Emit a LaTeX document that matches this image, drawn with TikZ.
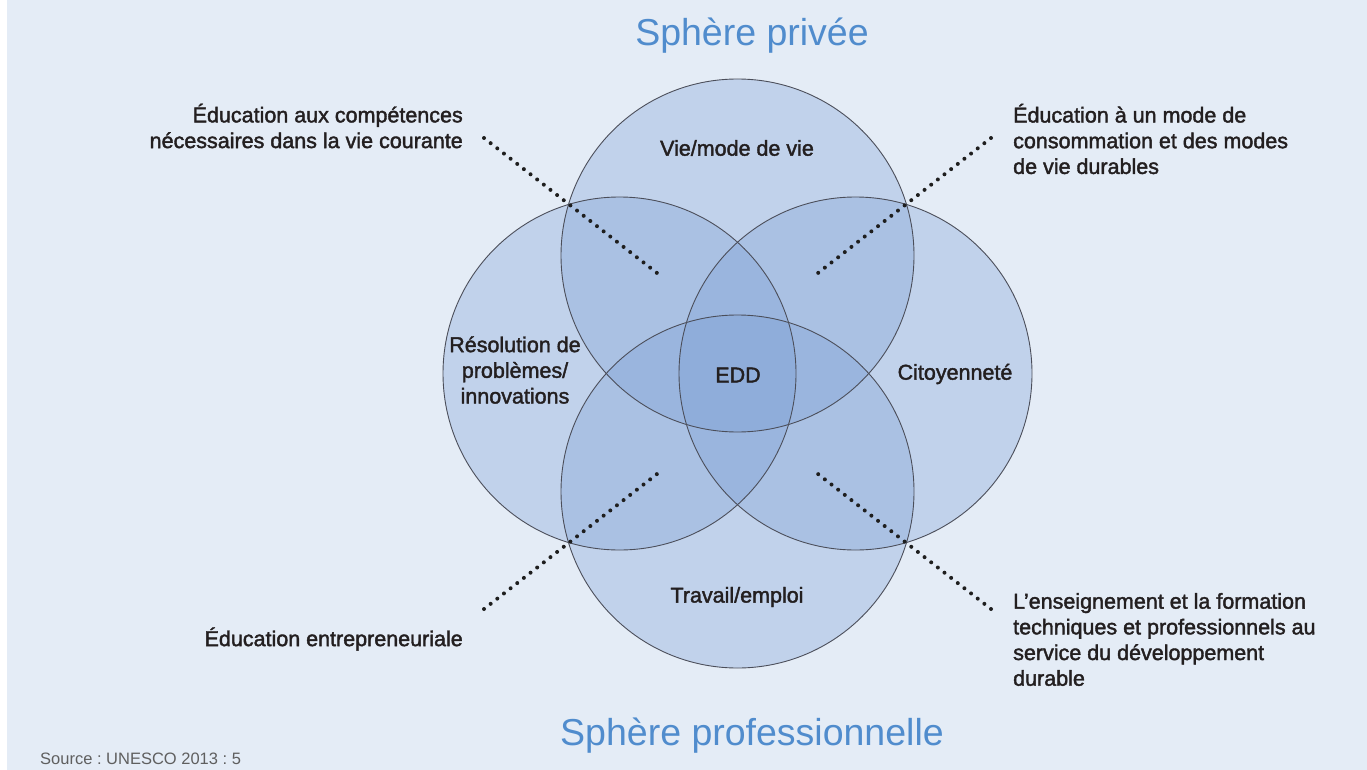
\documentclass[tikz,border=0pt]{standalone}
\usepackage{fontspec}
\setmainfont{Liberation Sans}
\newfontfamily\medfont{Liberation Sans}[FakeBold=1.8]
\frenchspacing
\definecolor{bgblue}{RGB}{228,236,246}
\definecolor{circfill}{RGB}{122,158,212}
\definecolor{circline}{RGB}{75,78,90}
\definecolor{titleblue}{RGB}{80,140,205}
\definecolor{textdark}{RGB}{35,31,32}
\definecolor{dotcol}{RGB}{30,30,30}
\definecolor{srcgray}{RGB}{95,95,95}
\begin{document}
\begin{tikzpicture}[x=1pt,y=-1pt,
  venn/.style={fill=circfill,fill opacity=0.32},
  vennline/.style={draw=circline,line width=0.9pt},
  lbl/.style={font=\medfont\fontsize{21.5}{25.7}\selectfont,text=textdark,inner sep=0pt,align=center},
  sidel/.style={lbl,align=right,anchor=east},
  sider/.style={lbl,align=left,anchor=west},
  titletext/.style={font=\fontsize{37.5}{40}\selectfont,text=titleblue,inner sep=0pt},
  dotline/.style={draw=dotcol,line width=4pt,line cap=round,dash pattern=on 0pt off 8.43pt}
]
\useasboundingbox (0,0) rectangle (1367,770);
\fill[white] (0,0) rectangle (1367,770);
\fill[bgblue] (7,0) rectangle (1367,770);

% circles
\coordinate (cT) at (737.5,255.5);
\coordinate (cL) at (619.5,373.5);
\coordinate (cR) at (855.5,373.5);
\coordinate (cB) at (737.5,491.5);
\foreach \c in {cT,cL,cR,cB} {
  \fill[venn] (\c) circle[radius=176.5pt];
}
\foreach \c in {cT,cL,cR,cB} {
  \draw[vennline] (\c) circle[radius=176.5pt];
}

% titles
\node[titletext] (privee) at (752,35.5) {Sphère privée};
\node[titletext] (pro) at (752,735.5) {Sphère professionnelle};

% circle labels
\node[lbl] (vie) at (737,148) {Vie/mode de vie};
\node[lbl] (reso) at (515,370) {Résolution de\\problèmes/\\innovations};
\node[lbl] (edd) at (738,375) {EDD};
\node[lbl] (cito) at (955,374) {Citoyenneté};
\node[lbl] (trav) at (737,597) {Travail/emploi};

% side labels
\node[sidel] (tl) at (463,126) {Éducation aux compétences\\nécessaires dans la vie courante};
\node[sider] (tr) at (1013,139) {Éducation à un mode de\\consommation et des modes\\de vie durables};
\node[sidel] (bl) at (463,639) {Éducation entrepreneuriale};
\node[sider] (br) at (1013,639.5) {L’enseignement et la formation\\techniques et professionnels au\\service du développement\\durable};

% dotted connectors
\coordinate (tlA) at (484,138);  \coordinate (tlB) at (657,273);
\coordinate (trA) at (991,138);  \coordinate (trB) at (818,273);
\coordinate (blA) at (484,609);  \coordinate (blB) at (657,474);
\coordinate (brA) at (991,609);  \coordinate (brB) at (818,474);
\draw[dotline] (tlA) -- (tlB);
\draw[dotline] (trA) -- (trB);
\draw[dotline] (blA) -- (blB);
\draw[dotline] (brA) -- (brB);

% source
\node[anchor=west,inner sep=0pt,font=\fontsize{16.5}{18}\selectfont,text=srcgray] (src) at (40,759) {Source : UNESCO 2013 : 5};
\end{tikzpicture}
\end{document}
